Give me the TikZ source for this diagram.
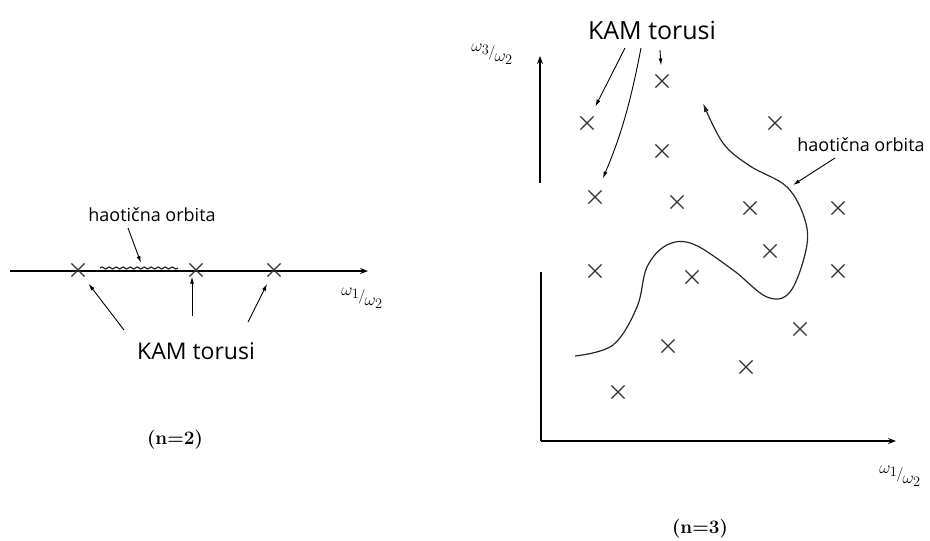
\documentclass[tikz,border=0pt]{standalone}
\usepackage{fontspec}
\setsansfont{Open Sans}
\usetikzlibrary{arrows.meta,positioning,shapes.misc,decorations.pathmorphing}

\newcommand{\freqratio}[2]{\raisebox{5pt}{$\omega_{#1}$}\kern-1pt{\Large/}\kern-1pt\raisebox{-5pt}{$\omega_{#2}$}}

\begin{document}
\begin{tikzpicture}[
  x=1pt, y=-1pt,
  torus/.style={cross out, draw=black!80, line width=1.2pt, minimum size=12pt, inner sep=0pt},
  orbitlbl/.style={font=\sffamily\fontsize{18}{18}\selectfont, inner sep=0pt},
  kamlbl/.style={font=\sffamily\fontsize{#1}{#1}\selectfont, inner sep=0pt},
  ratio/.style={font=\fontsize{19}{19}\selectfont, inner sep=0pt},
  caselbl/.style={font=\bfseries\fontsize{19}{19}\selectfont, inner sep=0pt},
  axis/.style={draw, line width=1.3pt, -{Stealth[length=8pt, width=6pt]}},
  pointer/.style={draw, line width=0.9pt, -{Latex[length=7pt, width=4pt]}},
  orbit/.style={draw=black!85, line width=1.2pt}
]
  \useasboundingbox (0,0) rectangle (930,541);

  % n = 2
  \coordinate (ax0) at (10,271);
  \coordinate (ax1) at (368,271);
  \draw[axis] (ax0) -- (ax1);
  \node[torus] (a1) at (78,270) {};
  \node[torus] (a2) at (196,270) {};
  \node[torus] (a3) at (274,270) {};
  \coordinate (s0) at (100,268);
  \coordinate (s1) at (178,268);
  \draw[orbit, decorate, decoration={snake, amplitude=1pt, segment length=7pt}] (s0) -- (s1);

  \node[orbitlbl] (haotL) at (152,215) {haotična orbita};
  \coordinate (h0) at (128,228);
  \coordinate (h1) at (141,263);
  \draw[pointer] (h0) -- (h1);

  \node[kamlbl=23] (kamL) at (196,351) {KAM torusi};
  \coordinate (k1) at (124,330);
  \coordinate (k2) at (192,316);
  \coordinate (k3) at (248,322);
  \draw[pointer, shorten >=9pt] (k1) -- (a1);
  \draw[pointer] (k2) -- (k2 |- a2.south);
  \draw[pointer, shorten >=8pt] (k3) -- (a3);

  \node[ratio] (r1) at (362,298) {\freqratio{1}{2}};
  \node[caselbl] (n2) at (175,440) {(n=2)};

  % n = 3
  \coordinate (o) at (541,441);
  \coordinate (v0) at (541,272);
  \coordinate (v1) at (540,183);
  \coordinate (v2) at (540,56);
  \coordinate (hx) at (896,441);
  \draw[axis, -] (o) -- (v0);
  \draw[axis] (v1) -- (v2);
  \draw[axis] (o) -- (hx);

  \node[torus] (b1) at (662,81) {};
  \node[torus] (b2) at (587,123) {};
  \node[torus] (b3) at (775,123) {};
  \node[torus] (b4) at (662,151) {};
  \node[torus] (b5) at (595,197) {};
  \node[torus] (b6) at (677,202) {};
  \node[torus] (b7) at (750,208) {};
  \node[torus] (b8) at (838,208) {};
  \node[torus] (b9) at (770,251) {};
  \node[torus] (b10) at (595,271) {};
  \node[torus] (b11) at (692,277) {};
  \node[torus] (b12) at (838,271) {};
  \node[torus] (b13) at (800,329) {};
  \node[torus] (b14) at (668,346) {};
  \node[torus] (b15) at (746,367) {};
  \node[torus] (b16) at (618,392) {};

  \draw[orbit, -{Latex[length=9pt, width=5pt]}] plot[smooth, tension=0.6] coordinates {
    (575,356) (613,345) (637,307) (647,267) (667,245) (693,244) (733,270)
    (767,297) (790,292) (806,250) (805,220) (787,187) (750,166) (723,143) (703,103)};

  \node[kamlbl=25] (kamR) at (652,30) {KAM torusi};
  \coordinate (m1) at (625,48);
  \coordinate (m2) at (641,48);
  \coordinate (m3) at (660,50);
  \draw[pointer, shorten >=11pt] (m1) -- (b2);
  \draw[pointer, shorten >=13pt] (m2) to[bend left=6] (b5);
  \draw[pointer, shorten >=9pt] (m3) -- (b1);

  \node[orbitlbl] (haotR) at (861,145) {haotična orbita};
  \coordinate (q0) at (835,158);
  \coordinate (q1) at (793,185);
  \draw[pointer] (q0) -- (q1);

  \node[ratio] (r3) at (492,54) {\freqratio{3}{2}};
  \node[ratio] (r2) at (900,476) {\freqratio{1}{2}};
  \node[caselbl] (n3) at (700,529) {(n=3)};
\end{tikzpicture}
\end{document}
